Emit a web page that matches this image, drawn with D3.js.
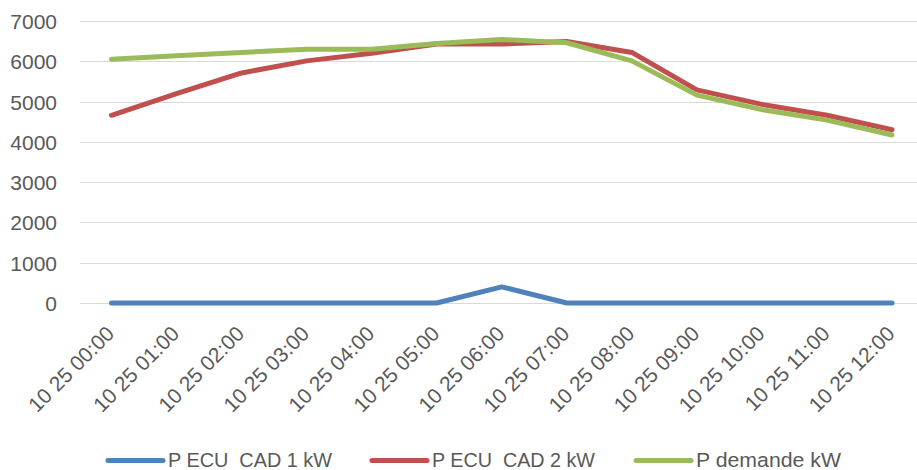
<!DOCTYPE html>
<html>
<head>
<meta charset="utf-8">
<script src="https://cdn.jsdelivr.net/npm/d3@7"></script>
<style>
  html, body { margin: 0; padding: 0; background: #fff; }
  svg { display: block; }
  text { font-family: "Liberation Sans", Arial, sans-serif; fill: #595959; }
</style>
</head>
<body>
<svg id="chart" width="917" height="470"></svg>
<script>
const categories = ["10 25 00:00", "10 25 01:00", "10 25 02:00", "10 25 03:00", "10 25 04:00",
  "10 25 05:00", "10 25 06:00", "10 25 07:00", "10 25 08:00", "10 25 09:00",
  "10 25 10:00", "10 25 11:00", "10 25 12:00"];
const cad1 = [0, 0, 0, 0, 0, 0, 400, 0, 0, 0, 0, 0, 0];
const cad2 = [4660, 5200, 5710, 6010, 6200, 6430, 6430, 6490, 6220, 5290, 4930, 4660, 4300];
const demande = [6050, 6140, 6220, 6300, 6300, 6440, 6540, 6460, 6010, 5160, 4800, 4540, 4170];
const yTicks = [0, 1000, 2000, 3000, 4000, 5000, 6000, 7000];
const seriesNames = ["P ECU  CAD 1 kW", "P ECU  CAD 2 kW", "P demande kW"];
const seriesColors = ["#4F81BD", "#C0504D", "#9BBB59"];

const series = [cad1, cad2, demande].map((vals, i) => ({
  name: seriesNames[i], color: seriesColors[i], values: vals
}));

const svg = d3.select("#chart");
const x = d3.scalePoint().domain(categories).range([111.5, 892]);
const y = d3.scaleLinear().domain([0, 7000]).range([303, 21]);

// gridlines
svg.append("g").selectAll("line").data(yTicks).join("line")
  .attr("x1", 80).attr("x2", 917)
  .attr("y1", d => Math.round(y(d)) + 0.5).attr("y2", d => Math.round(y(d)) + 0.5)
  .attr("stroke", "#d9d9d9").attr("stroke-width", 1);

// y axis labels
const yAxis = d3.axisLeft(y).tickValues(yTicks).tickSize(0).tickPadding(0).tickFormat(d3.format("d"));
const gy = svg.append("g").attr("transform", "translate(57,0)").call(yAxis);
gy.select(".domain").remove();
gy.selectAll("text").attr("font-size", 21).attr("fill", "#595959")
  .attr("font-family", "Liberation Sans, Arial, sans-serif").attr("dy", "0.36em");

// x axis labels
const xAxis = d3.axisBottom(x).tickSize(0).tickPadding(0);
const gx = svg.append("g").call(xAxis);
gx.select(".domain").remove();
gx.selectAll(".tick").attr("transform", d => `translate(${x(d) + 4},335)`);
gx.selectAll("text")
  .attr("font-size", 21).attr("fill", "#595959")
  .attr("font-family", "Liberation Sans, Arial, sans-serif")
  .attr("y", 0).attr("dy", 0)
  .attr("text-anchor", "end")
  .attr("transform", "rotate(-45)");

// lines
const line = d3.line().x((d, i) => x(categories[i])).y(d => y(d));
svg.append("g").selectAll("path").data(series).join("path")
  .attr("d", d => line(d.values))
  .attr("fill", "none")
  .attr("stroke", d => d.color)
  .attr("stroke-width", 5)
  .attr("stroke-linecap", "round")
  .attr("stroke-linejoin", "round");

// legend
const legendX = [108, 372, 636];
const legendTextW = [164, 163, 145];
const lg = svg.append("g").selectAll("g").data(series).join("g")
  .attr("transform", (d, i) => `translate(${legendX[i]},460.5)`);
lg.append("line").attr("x1", 0).attr("x2", 55).attr("y1", 0).attr("y2", 0)
  .attr("stroke", d => d.color).attr("stroke-width", 5).attr("stroke-linecap", "round");
lg.append("text").attr("x", 60).attr("y", 6.5)
  .attr("font-size", 20.5)
  .attr("textLength", (d, i) => legendTextW[i])
  .attr("lengthAdjust", "spacingAndGlyphs")
  .style("white-space", "pre")
  .text(d => d.name);
</script>
</body>
</html>
